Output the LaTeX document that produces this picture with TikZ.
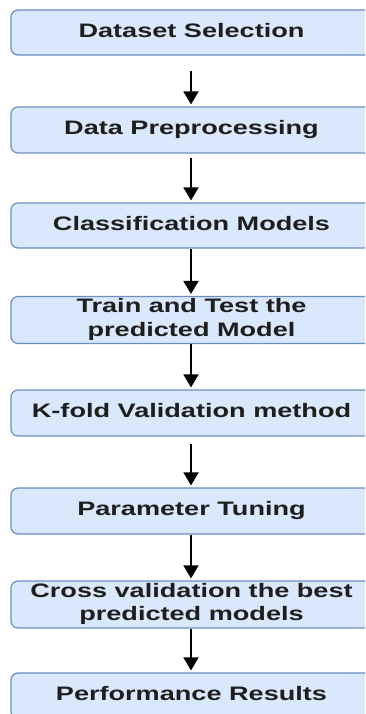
\documentclass[tikz,border=0pt]{standalone}
\usepackage{fontspec}
\setmainfont{Liberation Sans}
\usepackage{graphicx}
\usetikzlibrary{arrows.meta}
\definecolor{boxfill}{HTML}{DAE8FC}
\definecolor{boxline}{HTML}{6C8EBF}
\definecolor{txt}{HTML}{1E1E1E}
\newcommand{\stx}[1]{\raisebox{-2pt}{\scalebox{1.39}[1]{\begin{tabular}{@{}c@{}}#1\end{tabular}}}}
\begin{document}
\begin{tikzpicture}[x=1pt,y=-1pt,
  stepbox/.style={draw=boxline, fill=boxfill, line width=1.2pt, rounded corners=7pt,
    minimum width=361pt, inner sep=0pt, text=txt,
    font=\fontsize{19.5}{23.5}\selectfont\bfseries},
  flow/.style={-{Triangle[width=15pt,length=13pt]}, line width=1.8pt, black, shorten >=2pt}]
\useasboundingbox (0,0) rectangle (365,714);
\clip (0,0) rectangle (365,714);
\node[stepbox, minimum height=45pt] (n1) at (191.5,32.5) {\stx{Dataset Selection}};
\node[stepbox, minimum height=46pt] (n2) at (191.5,130) {\stx{Data Preprocessing}};
\node[stepbox, minimum height=45pt] (n3) at (191.5,225.5) {\stx{Classification Models}};
\node[stepbox, minimum height=46pt] (n4) at (191.5,320) {\stx{Train and Test the\\predicted Model}};
\node[stepbox, minimum height=46pt] (n5) at (191.5,413) {\stx{K-fold Validation method}};
\node[stepbox, minimum height=46pt] (n6) at (191.5,511) {\stx{Parameter Tuning}};
\node[stepbox, minimum height=47pt] (n7) at (191.5,604.5) {\stx{Cross validation the best\\predicted models}};
\node[stepbox, minimum height=46pt] (n8) at (191.5,696) {\stx{Performance Results}};
\draw[flow, shorten <=15pt] (n1.south -| 191,0) -- (n2.north -| 191,0);
\draw[flow, shorten <=4pt] (n2.south -| 191,0) -- (n3.north -| 191,0);
\draw[flow] (n3.south -| 191,0) -- (n4.north -| 191,0);
\draw[flow] (n4.south -| 191,0) -- (n5.north -| 191,0);
\draw[flow, shorten <=7pt] (n5.south -| 191,0) -- (n6.north -| 191,0);
\draw[flow] (n6.south -| 191,0) -- (n7.north -| 191,0);
\draw[flow] (n7.south -| 191,0) -- (n8.north -| 191,0);
\end{tikzpicture}
\end{document}
